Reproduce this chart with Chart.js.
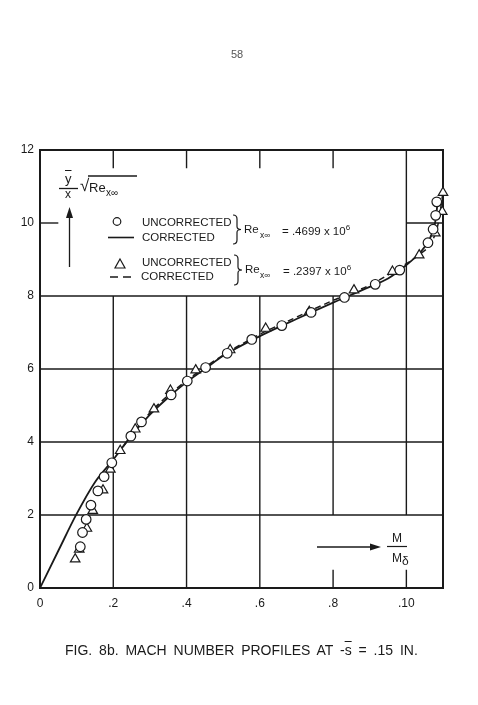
<!DOCTYPE html>
<html>
<head>
<meta charset="utf-8">
<script src="https://cdn.jsdelivr.net/npm/chart.js@4.4.1/dist/chart.umd.min.js"></script>
<style>
  body { margin: 0; background: #fff; }
  #wrap { position: relative; width: 478px; height: 705px; font-family: "Liberation Sans", Arial, sans-serif; color: #1a1a1a; }
  #wrap canvas { position: absolute; left: 0; top: 0; }
  .t { position: absolute; line-height: 1; white-space: nowrap; }
  .ov { text-decoration: overline; }
  sup { font-size: 8px; vertical-align: 5px; }
</style>
</head>
<body>
<div id="wrap">
  <canvas id="chart" width="478" height="705"></canvas>

  <div class="t" style="left:231px;top:49px;font-size:11px;color:#555">58</div>

  <!-- y axis quantity -->
  <div class="t ov" style="left:65px;top:172px;font-size:13px">y</div>
  <div class="t" style="left:65px;top:188px;font-size:12px">x</div>
  <div class="t" style="left:80px;top:177px;font-size:17px">√</div>
  <div class="t" style="left:89px;top:181px;font-size:13px">Re</div>
  <div class="t" style="left:106px;top:188px;font-size:10px">x∞</div>

  <!-- legend -->
  <div class="t" style="left:142px;top:217px;font-size:11.5px">UNCORRECTED</div>
  <div class="t" style="left:142px;top:232px;font-size:11.5px">CORRECTED</div>
  <div class="t" style="left:244px;top:224px;font-size:11.5px">Re</div>
  <div class="t" style="left:260px;top:231px;font-size:8.5px">x∞</div>
  <div class="t" style="left:282px;top:224px;font-size:11.5px">= .4699 x 10<sup>6</sup></div>

  <div class="t" style="left:142px;top:257px;font-size:11.5px">UNCORRECTED</div>
  <div class="t" style="left:141px;top:271px;font-size:11.5px">CORRECTED</div>
  <div class="t" style="left:245px;top:264px;font-size:11.5px">Re</div>
  <div class="t" style="left:260px;top:271px;font-size:8.5px">x∞</div>
  <div class="t" style="left:283px;top:264px;font-size:11.5px">= .2397 x 10<sup>6</sup></div>

  <!-- x axis quantity -->
  <div class="t" style="left:392px;top:532px;font-size:12px">M</div>
  <div class="t" style="left:392px;top:552px;font-size:12px">M</div>
  <div class="t" style="left:402px;top:555px;font-size:12px">δ</div>

  <div class="t" style="left:65px;top:643px;font-size:14px;word-spacing:3px">FIG. 8b. MACH NUMBER PROFILES AT -<span class="ov">s</span> = .15 IN.</div>
</div>

<script>
// uncorrected, Re = .4699 x 10^6 (circles)
const circleX = [0.110, 0.116, 0.126, 0.139, 0.158, 0.175, 0.196, 0.248, 0.277, 0.358, 0.402, 0.452, 0.511, 0.578, 0.660, 0.740, 0.831, 0.915, 0.982, 1.059, 1.073, 1.080, 1.083];
const circleY = [1.13, 1.52, 1.88, 2.27, 2.66, 3.05, 3.43, 4.16, 4.55, 5.29, 5.67, 6.04, 6.43, 6.81, 7.19, 7.55, 7.96, 8.32, 8.71, 9.46, 9.83, 10.21, 10.58];

// uncorrected, Re = .2397 x 10^6 (triangles)
const triX = [0.096, 0.107, 0.128, 0.144, 0.172, 0.192, 0.219, 0.260, 0.311, 0.356, 0.425, 0.519, 0.616, 0.735, 0.857, 0.962, 1.035, 1.079, 1.098, 1.100];
const triY = [0.79, 1.06, 1.63, 2.12, 2.68, 3.25, 3.76, 4.35, 4.90, 5.41, 5.97, 6.52, 7.11, 7.57, 8.16, 8.67, 9.12, 9.72, 10.31, 10.83];

// corrected curves
const solidX = [0, 0.05, 0.10, 0.15, 0.20, 0.25, 0.30, 0.35, 0.40, 0.45, 0.50, 0.60, 0.70, 0.80, 0.90, 0.95, 1.00, 1.04, 1.06, 1.075, 1.082, 1.085];
const solidY = [0, 1.02, 2.03, 2.90, 3.52, 4.18, 4.75, 5.22, 5.64, 6.00, 6.36, 6.90, 7.37, 7.82, 8.25, 8.48, 8.85, 9.22, 9.50, 9.85, 10.25, 10.58];
const dashX = [0.21, 0.30, 0.40, 0.50, 0.60, 0.70, 0.80, 0.90, 0.97, 1.03, 1.07, 1.087, 1.100];
const dashY = [3.65, 4.80, 5.68, 6.38, 6.95, 7.42, 7.88, 8.30, 8.70, 9.10, 9.50, 9.99, 10.85];

const xTicks = [0, 0.2, 0.4, 0.6, 0.8, 1.0];
const xTickLabels = ["0", ".2", ".4", ".6", ".8", ".10"];
const yTicks = [0, 2, 4, 6, 8, 10, 12];

const ink = "#1a1a1a";
const pts = (xs, ys) => xs.map((x, i) => ({ x, y: ys[i] }));

// grid segments in data units: the legend and the x label sit on blank paper
const gridSegs = [
  [0.2, 0, 0.2, 8], [0.2, 11.5, 0.2, 12],
  [0.4, 0, 0.4, 8], [0.4, 11.5, 0.4, 12],
  [0.6, 0, 0.6, 8], [0.6, 11.5, 0.6, 12],
  [0.8, 0, 0.8, 0.5], [0.8, 2, 0.8, 8], [0.8, 11.5, 0.8, 12],
  [1.0, 0, 1.0, 0.5], [1.0, 2, 1.0, 12],
  [0, 2, 1.1, 2], [0, 4, 1.1, 4], [0, 6, 1.1, 6], [0, 8, 1.1, 8],
  [0, 10, 0.05, 10], [1.0, 10, 1.1, 10]
];

function arrow(ctx, x1, y1, x2, y2) {
  const a = Math.atan2(y2 - y1, x2 - x1);
  ctx.beginPath();
  ctx.moveTo(x1, y1);
  ctx.lineTo(x2 - 8 * Math.cos(a), y2 - 8 * Math.sin(a));
  ctx.stroke();
  ctx.beginPath();
  ctx.moveTo(x2, y2);
  ctx.lineTo(x2 - 11 * Math.cos(a) + 3.5 * Math.sin(a), y2 - 11 * Math.sin(a) - 3.5 * Math.cos(a));
  ctx.lineTo(x2 - 11 * Math.cos(a) - 3.5 * Math.sin(a), y2 - 11 * Math.sin(a) + 3.5 * Math.cos(a));
  ctx.closePath();
  ctx.fill();
}

function brace(ctx, x, top, bot) {
  const mid = (top + bot) / 2;
  ctx.beginPath();
  ctx.moveTo(x, top);
  ctx.quadraticCurveTo(x + 4, top, x + 4, top + 4);
  ctx.lineTo(x + 4, mid - 3);
  ctx.quadraticCurveTo(x + 4, mid, x + 8, mid);
  ctx.quadraticCurveTo(x + 4, mid, x + 4, mid + 3);
  ctx.lineTo(x + 4, bot - 4);
  ctx.quadraticCurveTo(x + 4, bot, x, bot);
  ctx.stroke();
}

const paper = {
  id: "paper",
  beforeDatasetsDraw(chart) {
    const { ctx, chartArea: a, scales: { x, y } } = chart;
    ctx.save();
    ctx.strokeStyle = ink;
    ctx.lineWidth = 1.4;
    gridSegs.forEach(([x1, y1, x2, y2]) => {
      ctx.beginPath();
      ctx.moveTo(x.getPixelForValue(x1), y.getPixelForValue(y1));
      ctx.lineTo(x.getPixelForValue(x2), y.getPixelForValue(y2));
      ctx.stroke();
    });
    ctx.lineWidth = 2;
    ctx.strokeRect(a.left, a.top, a.right - a.left, a.bottom - a.top);
    ctx.restore();
  },
  afterDraw(chart) {
    const ctx = chart.ctx;
    ctx.save();
    ctx.strokeStyle = ink;
    ctx.fillStyle = ink;
    ctx.lineWidth = 1.3;
    // y quantity: fraction bar, radical bar, arrow
    ctx.beginPath(); ctx.moveTo(59, 188.5); ctx.lineTo(78, 188.5); ctx.stroke();
    ctx.beginPath(); ctx.moveTo(88, 176); ctx.lineTo(137, 176); ctx.stroke();
    arrow(ctx, 69.5, 267, 69.5, 207);
    // legend markers
    ctx.lineWidth = 1.2;
    ctx.beginPath(); ctx.arc(117, 221.5, 3.8, 0, Math.PI * 2); ctx.stroke();
    ctx.lineWidth = 1.6;
    ctx.beginPath(); ctx.moveTo(108, 237.5); ctx.lineTo(134, 237.5); ctx.stroke();
    ctx.lineWidth = 1.2;
    ctx.beginPath(); ctx.moveTo(120, 259); ctx.lineTo(125, 268); ctx.lineTo(115, 268); ctx.closePath(); ctx.stroke();
    ctx.lineWidth = 1.6;
    ctx.setLineDash([8, 5]);
    ctx.beginPath(); ctx.moveTo(110, 277); ctx.lineTo(136, 277); ctx.stroke();
    ctx.setLineDash([]);
    ctx.lineWidth = 1.2;
    brace(ctx, 233, 215, 244);
    brace(ctx, 234, 255, 285);
    // x quantity
    ctx.lineWidth = 1.4;
    arrow(ctx, 317, 547, 381, 547);
    ctx.lineWidth = 1.2;
    ctx.beginPath(); ctx.moveTo(387, 546.5); ctx.lineTo(407, 546.5); ctx.stroke();
    ctx.restore();
  }
};

new Chart(document.getElementById("chart"), {
  data: {
    datasets: [
      { type: "scatter", data: pts(circleX, circleY), pointStyle: "circle", pointRadius: 4.8, backgroundColor: "#fff", borderColor: ink, borderWidth: 1.2, clip: false },
      { type: "scatter", data: pts(triX, triY), pointStyle: "triangle", pointRadius: 5.5, backgroundColor: "#fff", borderColor: ink, borderWidth: 1.2, clip: false },
      { type: "line", data: pts(solidX, solidY), borderColor: ink, borderWidth: 1.8, pointRadius: 0, tension: 0.4, cubicInterpolationMode: "monotone", fill: false },
      { type: "line", data: pts(dashX, dashY), borderColor: ink, borderWidth: 1.5, borderDash: [6, 4], pointRadius: 0, tension: 0.4, cubicInterpolationMode: "monotone", fill: false }
    ]
  },
  options: {
    responsive: false,
    animation: false,
    events: [],
    layout: { padding: { left: 4, right: 35, top: 150, bottom: 92 } },
    plugins: { legend: { display: false }, tooltip: { enabled: false } },
    scales: {
      x: {
        type: "linear", min: 0, max: 1.1,
        afterBuildTicks: (s) => { s.ticks = xTicks.map((v) => ({ value: v })); },
        afterFit: (s) => { s.height = 25; },
        grid: { display: false, drawTicks: false },
        border: { display: false },
        ticks: { padding: 8, color: ink, font: { family: "Liberation Sans", size: 12 }, maxRotation: 0, autoSkip: false,
          callback: (v) => { const i = xTicks.findIndex((t) => Math.abs(t - v) < 1e-6); return i < 0 ? "" : xTickLabels[i]; } }
      },
      y: {
        type: "linear", min: 0, max: 12,
        afterBuildTicks: (s) => { s.ticks = yTicks.map((v) => ({ value: v })); },
        afterFit: (s) => { s.width = 36; },
        grid: { display: false, drawTicks: false },
        border: { display: false },
        ticks: { padding: 6, color: ink, font: { family: "Liberation Sans", size: 12 } }
      }
    }
  },
  plugins: [paper]
});
</script>
</body>
</html>
